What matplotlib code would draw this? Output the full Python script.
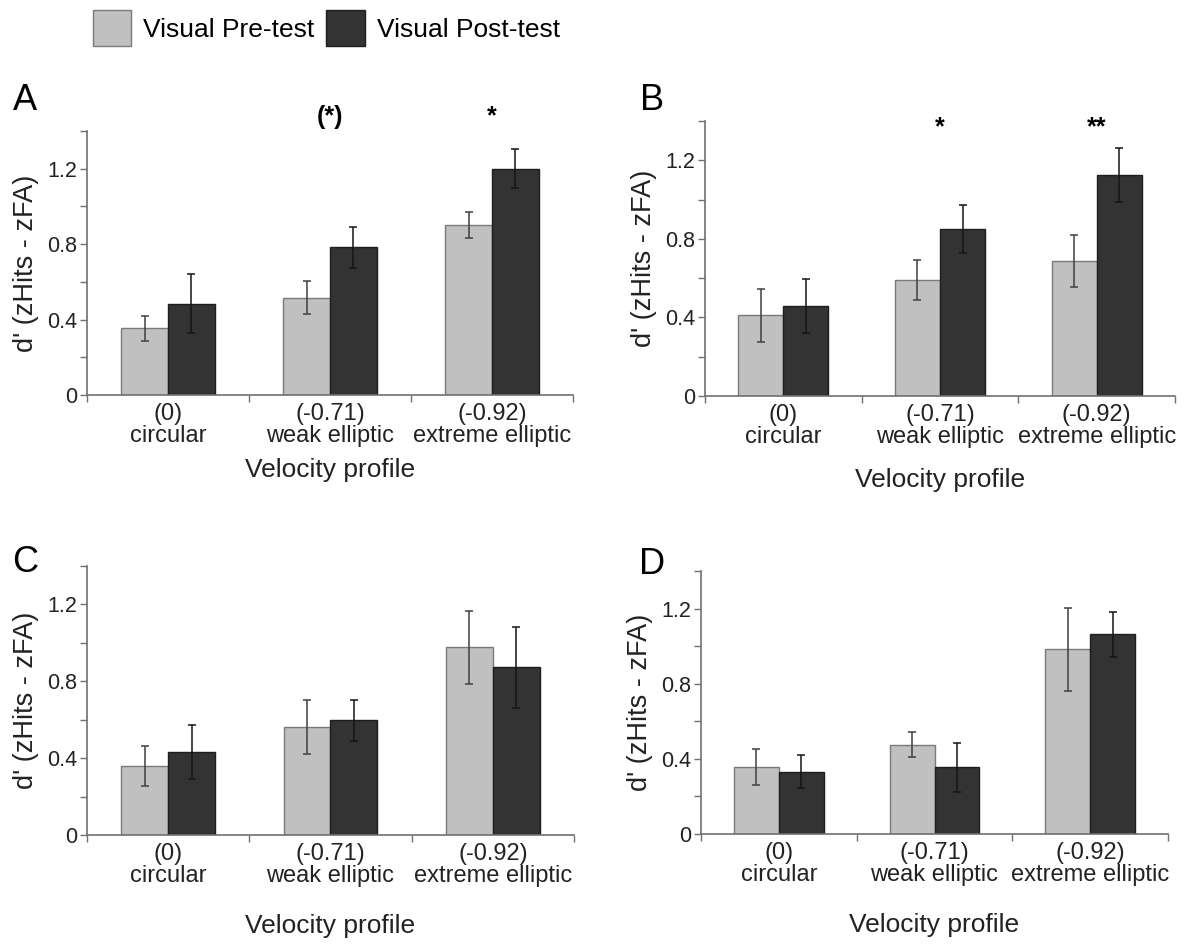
import matplotlib.pyplot as plt
from matplotlib.patches import Patch
import numpy as np

plt.rcParams["font.family"] = ["Liberation Sans", "DejaVu Sans"]

categories = ["(0)\ncircular", "(-0.71)\nweak elliptic", "(-0.92)\nextreme elliptic"]

# panel A
a_pre = [0.354, 0.517, 0.901]
a_pre_err = [0.067, 0.085, 0.068]
a_post = [0.485, 0.784, 1.200]
a_post_err = [0.157, 0.108, 0.103]
a_stars = ["", "(*)", "*"]

# panel B
b_pre = [0.410, 0.591, 0.686]
b_pre_err = [0.133, 0.100, 0.132]
b_post = [0.459, 0.849, 1.125]
b_post_err = [0.136, 0.122, 0.137]
b_stars = ["", "*", "**"]

# panel C
c_pre = [0.361, 0.563, 0.976]
c_pre_err = [0.104, 0.142, 0.190]
c_post = [0.432, 0.597, 0.873]
c_post_err = [0.140, 0.107, 0.212]

# panel D
d_pre = [0.357, 0.476, 0.983]
d_pre_err = [0.097, 0.068, 0.220]
d_post = [0.331, 0.354, 1.064]
d_post_err = [0.088, 0.130, 0.120]

W, H = 1196, 948
fig = plt.figure(figsize=(W / 100, H / 100), dpi=100)


def make_axes(left, top, right, bottom):
    return fig.add_axes([left / W, 1 - bottom / H, (right - left) / W, (bottom - top) / H])


def panel(ax, pre, pre_err, post, post_err, stars=None, star_y=1.45, label_pad=10):
    x = np.arange(len(categories))
    w = 0.288
    ax.bar(x - w / 2, pre, w, color="#c0c0c0", edgecolor="#7a7a7a", linewidth=1.0, zorder=2)
    ax.bar(x + w / 2, post, w, color="#333333", edgecolor="#1e1e1e", linewidth=1.0, zorder=2)
    ax.errorbar(x - w / 2, pre, yerr=pre_err, fmt="none", ecolor="#404040",
                elinewidth=1.1, capsize=3, capthick=1.1, zorder=3)
    ax.errorbar(x + w / 2, post, yerr=post_err, fmt="none", ecolor="#151515",
                elinewidth=1.1, capsize=3, capthick=1.1, zorder=3)

    ax.set_xlim(-0.5, 2.5)
    ax.set_ylim(0, 1.4)
    for s in ["top", "right"]:
        ax.spines[s].set_visible(False)
    for s in ["left", "bottom"]:
        ax.spines[s].set_color("#707070")
        ax.spines[s].set_linewidth(1.2)

    ax.set_yticks([0, 0.4, 0.8, 1.2])
    ax.set_yticklabels(["0", "0.4", "0.8", "1.2"])
    ax.set_yticks([0.2, 0.6, 1.0, 1.4], minor=True)
    ax.tick_params(axis="y", which="both", length=5, width=1.0, color="#707070",
                   labelsize=15.5, pad=2, labelcolor="#222222")

    ax.set_xticks(x)
    ax.set_xticklabels(categories)
    ax.set_xticks([-0.5, 0.5, 1.5, 2.5], minor=True)
    ax.tick_params(axis="x", which="major", length=0, labelsize=17, pad=6,
                   labelcolor="#222222")
    ax.tick_params(axis="x", which="minor", length=5, width=1.0, color="#707070")
    for lbl in ax.get_xticklabels():
        lbl.set_linespacing(1.0)

    ax.set_xlabel("Velocity profile", fontsize=19, labelpad=label_pad, color="#222222")
    ax.set_ylabel("d' (zHits - zFA)", fontsize=19.5, labelpad=6, color="#222222")

    if stars:
        for xi, s in zip(x, stars):
            if s:
                ax.text(xi, star_y, s, ha="center", va="center", fontsize=18,
                        fontweight="bold", clip_on=False)


ax_a = make_axes(87, 131, 573, 395)
panel(ax_a, a_pre, a_pre_err, a_post, a_post_err, a_stars, star_y=1.476, label_pad=8)

ax_b = make_axes(705, 121, 1175, 396)
panel(ax_b, b_pre, b_pre_err, b_post, b_post_err, b_stars, star_y=1.37, label_pad=14)

ax_c = make_axes(87, 566, 574, 835)
panel(ax_c, c_pre, c_pre_err, c_post, c_post_err, label_pad=19)

ax_d = make_axes(701, 571, 1168, 834)
panel(ax_d, d_pre, d_pre_err, d_post, d_post_err, label_pad=19)

for letter, px, py in [("A", 25, 101), ("B", 652, 101), ("C", 25, 562), ("D", 652, 564)]:
    fig.text(px / W, 1 - py / H, letter, fontsize=26, ha="center", va="center")

handles = [
    Patch(facecolor="#c0c0c0", edgecolor="#7a7a7a", label="Visual Pre-test"),
    Patch(facecolor="#333333", edgecolor="#1e1e1e", label="Visual Post-test"),
]
fig.legend(handles=handles, loc="center left", bbox_to_anchor=(0.058, 1 - 28 / H),
           ncol=2, frameon=False, fontsize=19, handlelength=1.45, handleheight=1.75,
           handletextpad=0.45, columnspacing=0.45)

fig.savefig("out.png", dpi=100)
